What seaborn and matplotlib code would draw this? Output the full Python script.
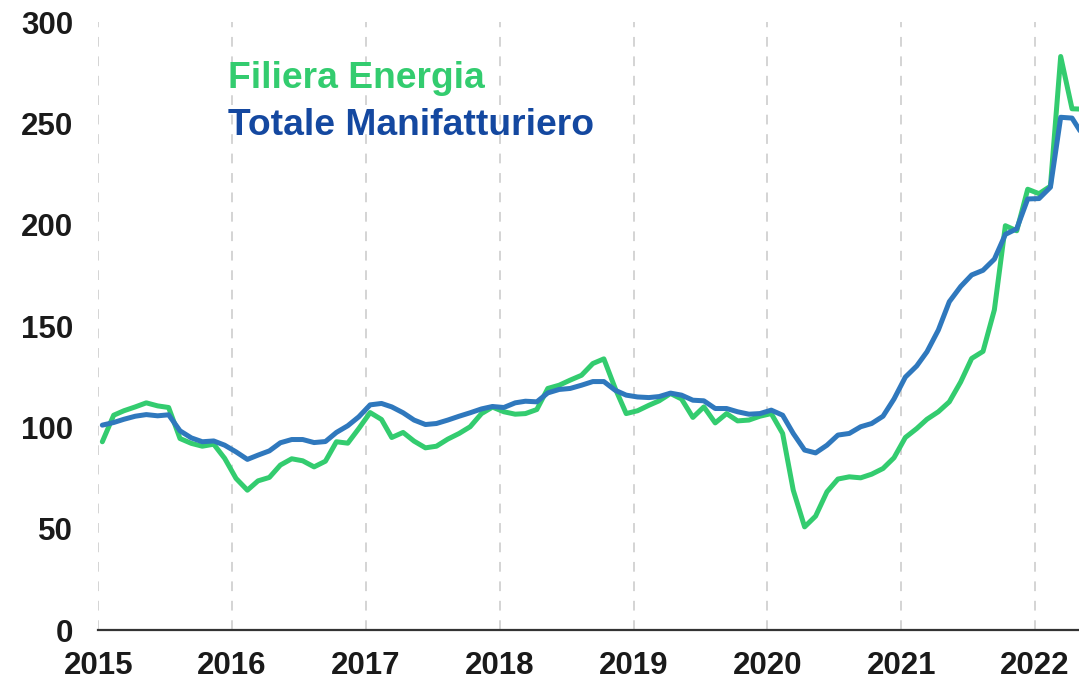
import pandas as pd
import matplotlib
matplotlib.use("Agg")
import matplotlib.pyplot as plt
import matplotlib.dates as mdates
import seaborn as sns

# ------------------------------------------------------------
# dati (indice) - mensili gen 2015 .. mag 2022
# ------------------------------------------------------------
mesi = pd.date_range("2015-01-01", periods=89, freq="MS") + pd.Timedelta(days=11)

filiera_energia = [
    92.9, 106.0, 108.2, 110.1, 112.1, 110.6, 109.8, 94.5, 92.1, 90.7, 91.7, 84.7,
    74.8, 69.0, 73.6, 75.3, 81.4, 84.5, 83.5, 80.5, 83.3, 92.9, 92.2, 99.4,
    107.3, 103.9, 95.0, 97.5, 93.2, 89.9, 90.7, 94.2, 97.0, 100.3, 106.8, 110.0,
    107.7, 106.5, 106.8, 108.8, 119.2, 120.8, 123.3, 125.7, 131.5, 133.8, 119.2, 106.8,
    108.2, 110.9, 113.1, 116.7, 114.0, 104.9, 110.1, 102.2, 106.8, 103.2, 103.6, 105.5,
    106.8, 97.0, 69.0, 50.9, 56.2, 68.2, 74.5, 75.6, 75.1, 76.9, 79.7, 85.0,
    95.0, 99.4, 104.0, 107.7, 112.6, 122.4, 134.0, 137.5, 158.0, 199.5, 197.0, 217.5,
    215.3, 219.0, 283.0, 257.2, 257.0,
]

totale_manifatturiero = [
    101.1, 102.4, 104.0, 105.5, 106.3, 105.7, 106.2, 98.3, 94.8, 92.9, 93.3, 91.2,
    87.9, 84.2, 86.3, 88.4, 92.4, 94.0, 94.0, 92.5, 93.0, 97.5, 100.8, 105.2,
    111.1, 111.8, 110.1, 107.2, 103.6, 101.4, 101.9, 103.6, 105.5, 107.2, 109.1, 110.3,
    109.8, 112.1, 112.9, 112.6, 117.0, 118.7, 119.2, 120.8, 122.6, 122.6, 118.3, 115.9,
    115.0, 114.7, 115.2, 116.9, 115.9, 113.4, 113.1, 109.3, 109.3, 107.7, 106.5, 106.8,
    108.5, 106.0, 97.0, 88.8, 87.4, 91.2, 96.2, 97.0, 100.3, 101.9, 105.5, 114.0,
    124.8, 130.3, 137.3, 148.0, 162.0, 169.5, 175.2, 177.5, 183.0, 195.2, 198.0, 212.7,
    212.9, 218.5, 253.0, 252.6, 244.0,
]

serie = ["Filiera Energia", "Totale Manifatturiero"]
colori_linee = ["#33cc6f", "#2f78bd"]
colori_testo = ["#33cc6f", "#1448a0"]
anni = list(range(2015, 2023))
y_ticks = [0, 50, 100, 150, 200, 250, 300]

df = pd.DataFrame({
    "mese": list(mesi) * 2,
    "indice": filiera_energia + totale_manifatturiero,
    "serie": [serie[0]] * len(mesi) + [serie[1]] * len(mesi),
})

# ------------------------------------------------------------
# grafico
# ------------------------------------------------------------
sns.set_style("white")
plt.rcParams["font.family"] = ["Liberation Sans", "DejaVu Sans"]
plt.rcParams["font.weight"] = "bold"

fig = plt.figure(figsize=(10.79, 6.82), dpi=100)
ax = fig.add_axes([0.0911, 0.0762, 0.9089, 0.8915])

sns.lineplot(data=df, x="mese", y="indice", hue="serie", hue_order=serie,
             palette=colori_linee, linewidth=3.6, legend=False, ax=ax)

ax.set_ylim(0, 300)
ax.set_xlim(pd.Timestamp("2015-01-01"), pd.Timestamp("2022-05-01"))
ax.set_yticks(y_ticks)
ax.set_xlabel("")
ax.set_ylabel("")

# asse x: anni + mezzo anno
ax.xaxis.set_major_locator(mdates.YearLocator())
ax.xaxis.set_major_formatter(mdates.DateFormatter("%Y"))
ax.xaxis.set_minor_locator(mdates.MonthLocator(bymonth=7))
ax.tick_params(axis="x", which="major", direction="inout", length=11, width=1.3,
               color="#222222", labelsize=22.5, pad=9.5, labelcolor="#1a1a1a")
ax.tick_params(axis="x", which="minor", direction="inout", length=10, width=1.3,
               color="#222222")
ax.tick_params(axis="y", length=0, labelsize=22.5, pad=18, labelcolor="#1a1a1a")
for lab in ax.get_xticklabels() + ax.get_yticklabels():
    lab.set_fontweight("bold")

# griglia verticale tratteggiata
ax.grid(False)
for a in anni:
    ax.axvline(pd.Timestamp(f"{a}-01-01"), color="#d4d4d4", lw=1.4,
               ls=(0, (5, 5)), zorder=0)

for s in ["top", "right", "left"]:
    ax.spines[s].set_visible(False)
ax.spines["bottom"].set_color("#333333")
ax.spines["bottom"].set_linewidth(1.6)

# legenda come testo colorato
ax.text(0.132, 0.907, serie[0], transform=ax.transAxes, color=colori_testo[0],
        fontsize=26.8, fontweight="bold", va="center", ha="left")
ax.text(0.132, 0.830, serie[1], transform=ax.transAxes, color=colori_testo[1],
        fontsize=26.8, fontweight="bold", va="center", ha="left")

plt.savefig("out.png", dpi=100)
